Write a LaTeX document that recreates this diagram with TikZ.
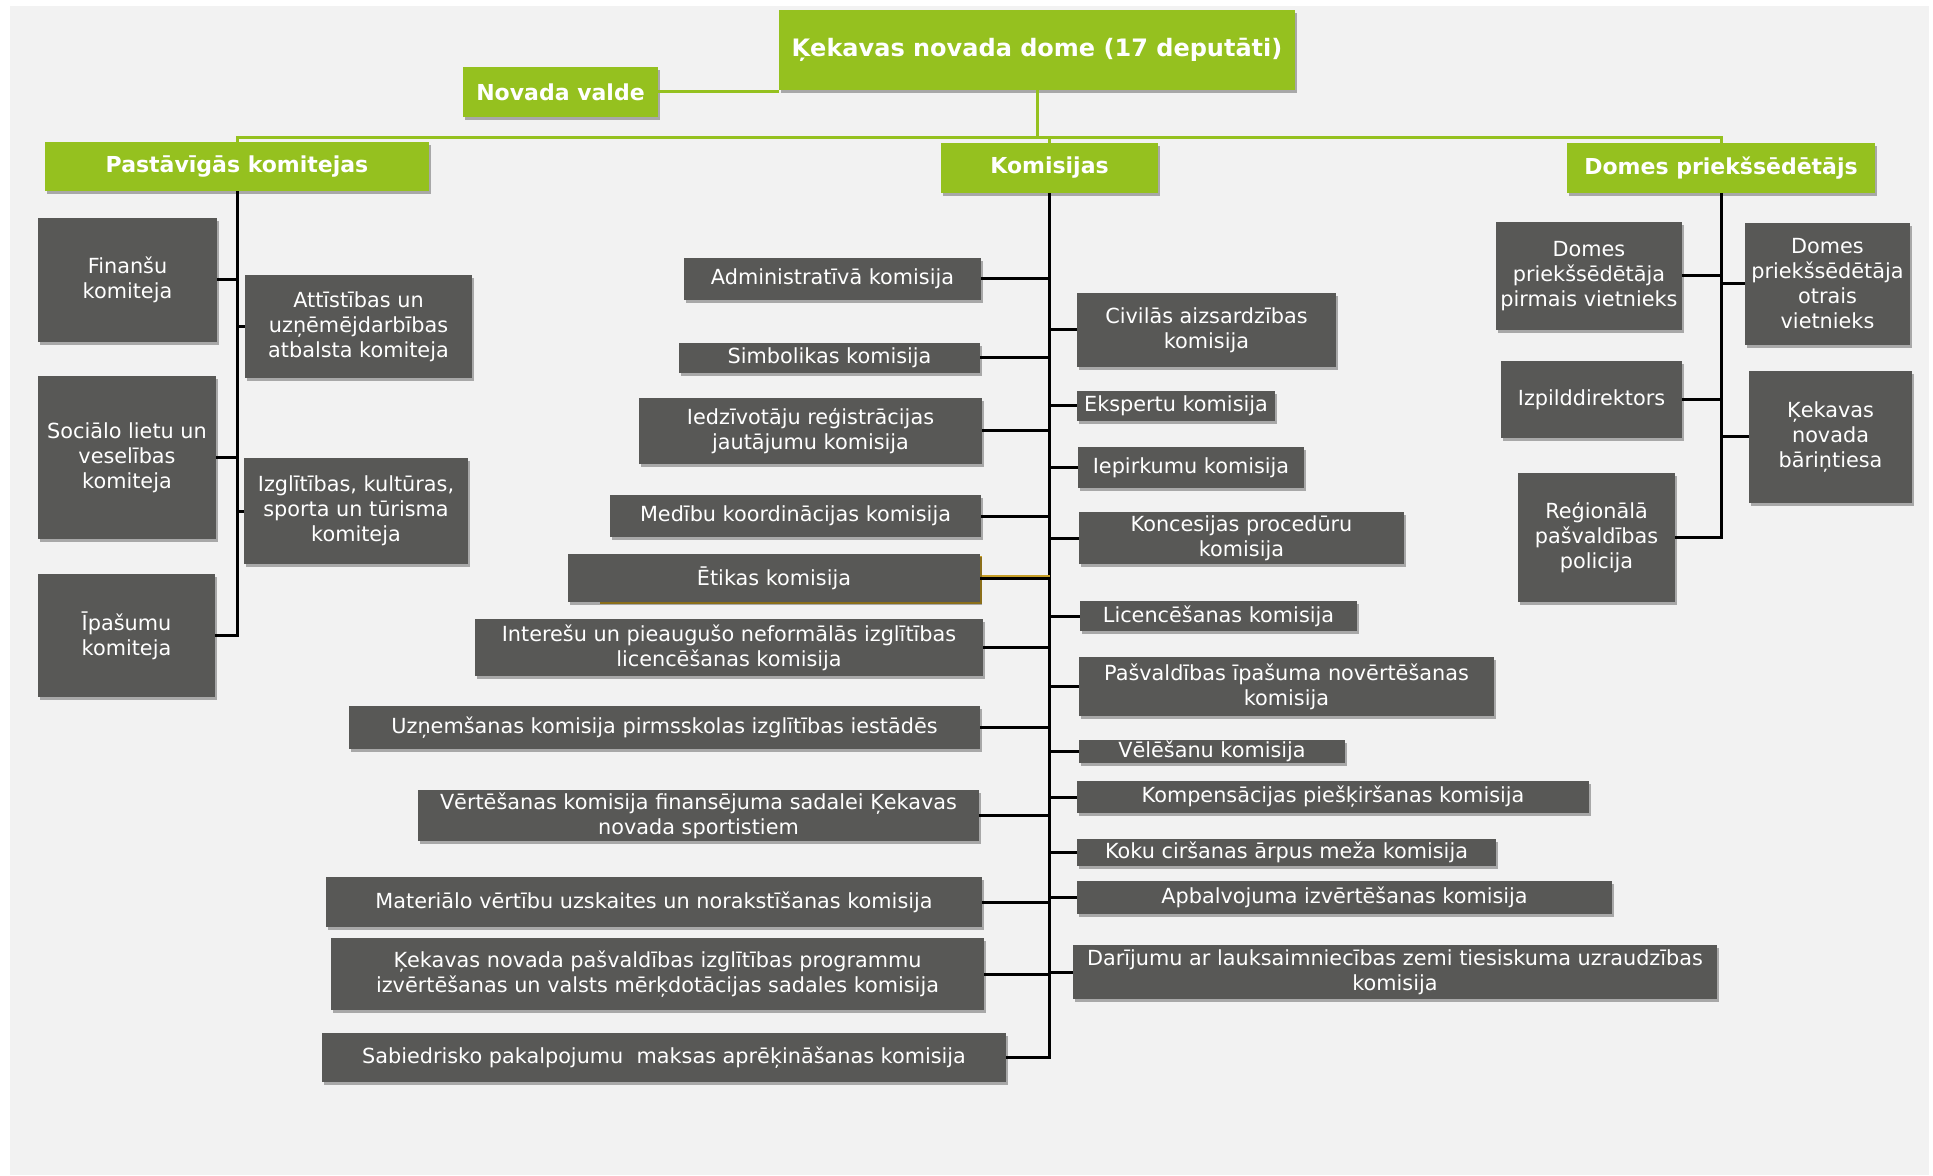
\documentclass[tikz,border=0pt]{standalone}
\usepackage{fontspec}
\setmainfont{DejaVu Sans}
\usetikzlibrary{shadows}

\definecolor{kgreen}{RGB}{149,193,31}
\definecolor{kgrey}{RGB}{88,88,86}
\definecolor{kpanel}{RGB}{242,242,242}
\definecolor{kgold}{RGB}{200,160,40}

\tikzset{
  wh/.style n args={2}{minimum width=#1*0.5pt, minimum height=#2*0.5pt},
  kbox/.style={rectangle, inner xsep=1.5pt, inner ysep=0.5pt, align=center, text=white,
    drop shadow={shadow xshift=1.2pt, shadow yshift=-1.6pt, opacity=0.3, fill=black}},
  grybox/.style={kbox, fill=kgrey, font=\fontsize{10.4}{12.5}\selectfont},
  grnbox/.style={kbox, fill=kgreen, font=\fontsize{11}{13}\selectfont\bfseries},
  blkline/.style={line width=1.5pt, black},
  grnline/.style={line width=1.5pt, kgreen}
}

\begin{document}
\begin{tikzpicture}[x=0.5pt,y=0.5pt,yscale=-1,xscale=1]
\useasboundingbox (0,0) rectangle (1933,1176);
%Shape: Rectangle (panel)
\fill [kpanel] (10,6) rectangle (1929,1175);

% Green heads
\node [grnbox, wh={516}{80}, font=\fontsize{12}{14}\selectfont\bfseries] (dome) at (1037,50) {Ķekavas novada dome (17 deputāti)};
\node [grnbox, wh={195}{50}] (valde) at (560.5,92) {Novada valde};
\node [grnbox, wh={384}{49}] (pastav) at (237,166.5) {Pastāvīgās komitejas};
\node [grnbox, wh={217}{50}] (komis) at (1049.5,168) {Komisijas};
\node [grnbox, wh={308}{50}] (priek) at (1721,168) {Domes priekšsēdētājs};

% Text Node: komitejas
\node [grybox, wh={179}{124}] (fin) at (127.5,280) {Finanšu\\komiteja};
\node [grybox, wh={227}{103}] (attist) at (358.5,326.5) {Attīstības un\\uzņēmējdarbības\\atbalsta komiteja};
\node [grybox, wh={178}{163}] (soc) at (127,457.5) {Sociālo lietu un\\veselības\\komiteja};
\node [grybox, wh={224}{106}] (izgl) at (356,511) {Izglītības, kultūras,\\sporta un tūrisma\\komiteja};
\node [grybox, wh={177}{123}] (ipas) at (126.5,635.5) {Īpašumu\\komiteja};

% Text Node: priekssedetajs
\node [grybox, wh={186}{108}] (vietn1) at (1589,276) {Domes\\priekšsēdētāja\\pirmais vietnieks};
\node [grybox, wh={165}{122}] (vietn2) at (1827.5,284) {Domes\\priekšsēdētāja\\otrais\\vietnieks};
\node [grybox, wh={181}{77}] (izpild) at (1591.5,399.5) {Izpilddirektors};
\node [grybox, wh={163}{132}] (barin) at (1830.5,437) {Ķekavas\\novada\\bāriņtiesa};
\node [grybox, wh={157}{129}] (polic) at (1596.5,537.5) {Reģionālā\\pašvaldības\\policija};

% Text Node: komisijas, left
\node [grybox, wh={297}{42}] (admin) at (832.5,279) {Administratīvā komisija};
\node [grybox, wh={301}{30}] (simb) at (829.5,358) {Simbolikas komisija};
\node [grybox, wh={343}{66}] (iedz) at (810.5,431) {Iedzīvotāju reģistrācijas\\jautājumu komisija};
\node [grybox, wh={371}{42}] (medib) at (795.5,516) {Medību koordinācijas komisija};
\fill [kgold] (600,556) rectangle (981.5,603.5);
\node [grybox, wh={412}{48}] (etik) at (774,578) {Ētikas komisija};
\node [grybox, wh={508}{57}] (inter) at (729,647.5) {Interešu un pieaugušo neformālās izglītības\\licencēšanas komisija};
\node [grybox, wh={631}{43}] (uzn) at (664.5,727.5) {Uzņemšanas komisija pirmsskolas izglītības iestādēs};
\node [grybox, wh={561}{51}] (vert) at (698.5,815.5) {Vērtēšanas komisija finansējuma sadalei Ķekavas\\novada sportistiem};
\node [grybox, wh={656}{50}] (mater) at (654,902) {Materiālo vērtību uzskaites un norakstīšanas komisija};
\node [grybox, wh={653}{72}] (progr) at (657.5,974) {Ķekavas novada pašvaldības izglītības programmu\\izvērtēšanas un valsts mērķdotācijas sadales komisija};
\node [grybox, wh={684}{49}] (sabied) at (664,1057.5) {Sabiedrisko pakalpojumu~ maksas aprēķināšanas komisija};

% Text Node: komisijas, right
\node [grybox, wh={259}{74}] (civil) at (1206.5,330) {Civilās aizsardzības\\komisija};
\node [grybox, wh={198}{30}] (eksp) at (1176,406) {Ekspertu komisija};
\node [grybox, wh={226}{41}] (iepirk) at (1191,467.5) {Iepirkumu komisija};
\node [grybox, wh={325}{52}] (konc) at (1241.5,538) {Koncesijas procedūru\\komisija};
\node [grybox, wh={277}{30}] (licenc) at (1218.5,616) {Licencēšanas komisija};
\node [grybox, wh={415}{59}] (ipasnov) at (1286.5,686.5) {Pašvaldības īpašuma novērtēšanas\\komisija};
\node [grybox, wh={266}{23}] (velesan) at (1212,751.5) {Vēlēšanu komisija};
\node [grybox, wh={512}{32}] (kompens) at (1333,797) {Kompensācijas piešķiršanas komisija};
\node [grybox, wh={419}{27}] (koku) at (1286.5,852.5) {Koku ciršanas ārpus meža komisija};
\node [grybox, wh={535}{33}] (apbalv) at (1344.5,897.5) {Apbalvojuma izvērtēšanas komisija};
\node [grybox, wh={644}{54}] (darij) at (1395,972) {Darījumu ar lauksaimniecības zemi tiesiskuma uzraudzības\\komisija};

%Straight Lines: green
\draw [grnline] (valde.east) -- (valde.east -| dome.west);
\draw [grnline] (dome.south) -- ++(0,47) coordinate (bus);
\draw [grnline] (bus) -| (pastav.north);
\draw [grnline] (bus) -| (komis.north);
\draw [grnline] (bus) -| (priek.north);

%Straight Lines: komitejas
\draw [blkline] (pastav.south) |- (ipas.east);
\draw [blkline] (fin.east) -- (fin.east -| pastav.south);
\draw [blkline] (soc.east) -- (soc.east -| pastav.south);
\draw [blkline] (attist.west) -- (attist.west -| pastav.south);
\draw [blkline] (izgl.west) -- (izgl.west -| pastav.south);

%Straight Lines: priekssedetajs
\draw [blkline] (priek.south) |- (polic.east);
\draw [blkline] (vietn1.east) -- (vietn1.east -| priek.south);
\draw [blkline] (izpild.east) -- (izpild.east -| priek.south);
\draw [blkline] (vietn2.west) -- (vietn2.west -| priek.south);
\draw [blkline] (barin.west) -- (barin.west -| priek.south);

%Straight Lines: komisijas
\draw [blkline] (komis.south) |- (sabied.east);
\draw [blkline] (admin.east) -- (admin.east -| komis.south);
\draw [blkline] (simb.east) -- (simb.east -| komis.south);
\draw [blkline] (iedz.east) -- (iedz.east -| komis.south);
\draw [blkline] (medib.east) -- (medib.east -| komis.south);
\draw [blkline] (etik.east) -- (etik.east -| komis.south);
\draw [kgold, line width=0.6pt] ([shift={(1.5,-2)}]etik.east) -- ([shift={(0,-2)}]etik.east -| komis.south);
\draw [blkline] (inter.east) -- (inter.east -| komis.south);
\draw [blkline] (uzn.east) -- (uzn.east -| komis.south);
\draw [blkline] (vert.east) -- (vert.east -| komis.south);
\draw [blkline] (mater.east) -- (mater.east -| komis.south);
\draw [blkline] (progr.east) -- (progr.east -| komis.south);
\draw [blkline] (civil.west) -- (civil.west -| komis.south);
\draw [blkline] (eksp.west) -- (eksp.west -| komis.south);
\draw [blkline] (iepirk.west) -- (iepirk.west -| komis.south);
\draw [blkline] (konc.west) -- (konc.west -| komis.south);
\draw [blkline] (licenc.west) -- (licenc.west -| komis.south);
\draw [blkline] (ipasnov.west) -- (ipasnov.west -| komis.south);
\draw [blkline] (velesan.west) -- (velesan.west -| komis.south);
\draw [blkline] (kompens.west) -- (kompens.west -| komis.south);
\draw [blkline] (koku.west) -- (koku.west -| komis.south);
\draw [blkline] (apbalv.west) -- (apbalv.west -| komis.south);
\draw [blkline] (darij.west) -- (darij.west -| komis.south);

\end{tikzpicture}
\end{document}
